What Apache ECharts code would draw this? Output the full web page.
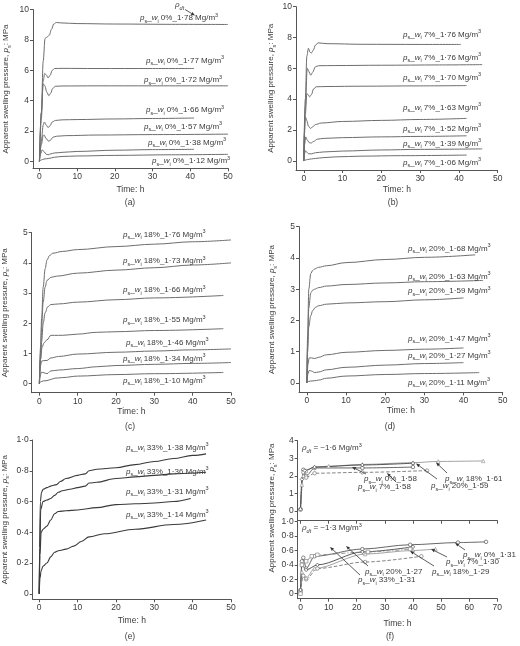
<!DOCTYPE html>
<html>
<head>
<meta charset="utf-8">
<script src="https://cdn.jsdelivr.net/npm/echarts@6.0.0/dist/echarts.min.js"></script>
<style>
  html, body { margin: 0; padding: 0; background: #fff; }
  #chart { width: 520px; height: 646px; }
</style>
</head>
<body>
<div id="chart"></div>
<script>
// ---- data (time h, pressure MPa) ----
const densA = ['1·78', '1·77', '1·72', '1·66', '1·57', '1·38', '1·12'];
const curvesA = [
  [[0,0],[0.5,3.2],[1,6.6],[1.5,8.1],[2,8.2],[2.6,8.3],[3.2,8.7],[3.8,9.05],[4.5,9.15],[6,9.12],[10,9.08],[20,9.05],[35,9.03],[50,9.02]],
  [[0,0],[0.5,2.8],[1,5.3],[1.4,5.8],[1.8,5.7],[2.3,5.5],[2.8,5.65],[3.4,6.0],[4,6.12],[6,6.13],[15,6.12],[30,6.12],[41,6.12]],
  [[0,0],[0.5,3.2],[1,5.1],[1.4,5.0],[2,4.55],[2.5,4.33],[3,4.5],[3.5,4.8],[4.2,4.95],[6,4.97],[15,4.98],[30,4.98],[50,4.98]],
  [[0,0],[0.5,1.3],[1,2.4],[1.3,2.6],[1.8,2.4],[2.3,2.23],[2.8,2.35],[3.4,2.6],[4.2,2.7],[6,2.74],[10,2.76],[20,2.8],[30,2.83],[41,2.86]],
  [[0,0],[0.5,1.1],[1,1.7],[1.2,1.75],[1.8,1.5],[2.5,1.33],[3,1.42],[3.6,1.6],[4.5,1.66],[7,1.7],[15,1.74],[30,1.77],[50,1.8]],
  [[0,0],[0.3,0.5],[0.7,0.77],[1.2,0.65],[1.8,0.48],[2.3,0.44],[3,0.5],[4,0.56],[6,0.6],[10,0.66],[20,0.74],[30,0.78],[41,0.8]],
  [[0,0],[0.5,0.1],[1.2,0.16],[2.5,0.2],[4,0.28],[6,0.33],[10,0.36],[20,0.4],[35,0.44],[50,0.47]]
];

const densB = ['1·76', '1·76', '1·70', '1·63', '1·52', '1·39', '1·06'];
const curvesB = [
  [[0,0],[0.4,4],[0.8,6.8],[1.2,7.3],[1.6,7.05],[2,7.0],[2.5,7.2],[3,7.5],[3.7,7.65],[6,7.6],[15,7.56],[30,7.55],[40.5,7.55]],
  [[0,0],[0.4,3.5],[0.9,6.0],[1.3,5.8],[1.8,5.55],[2.3,5.75],[3,6.1],[3.8,6.17],[8,6.18],[20,6.2],[35,6.22],[46,6.24]],
  [[0,0],[0.4,3.0],[0.8,4.35],[1.1,4.3],[1.5,4.15],[2,4.3],[2.5,4.65],[3.2,4.8],[6,4.82],[15,4.84],[30,4.86],[42,4.88]],
  [[0,0],[0.2,1.8],[0.4,2.85],[0.8,2.6],[1.2,2.25],[1.7,2.1],[2.3,2.2],[3,2.35],[4.5,2.45],[10,2.55],[20,2.62],[30,2.68],[42,2.75]],
  [[0,0],[0.25,1.1],[0.5,1.55],[0.9,1.35],[1.4,1.18],[1.9,1.15],[2.5,1.25],[3.5,1.4],[5,1.45],[10,1.5],[20,1.55],[30,1.58],[42,1.62]],
  [[0,0],[0.2,0.45],[0.4,0.65],[0.8,0.55],[1.3,0.45],[2,0.45],[3,0.52],[5,0.57],[10,0.63],[20,0.7],[30,0.74],[46,0.77]],
  [[0,0],[0.5,0.05],[1,0.08],[2,0.12],[3,0.15],[5,0.2],[8,0.25],[15,0.3],[25,0.33],[42,0.37]]
];

const densC = ['1·76', '1·73', '1·66', '1·55', '1·46', '1·34', '1·10'];
const curvesC = [
  [[0,0],[0.3,1.2],[0.6,2.2],[1,3.2],[1.5,3.8],[2,4.1],[2.7,4.25],[3.5,4.32],[6,4.38],[10,4.44],[20,4.54],[30,4.62],[40,4.7],[50,4.76]],
  [[0,0],[0.3,1.0],[0.6,1.9],[1,2.7],[1.5,3.2],[2,3.42],[3,3.52],[4.5,3.56],[10,3.66],[20,3.76],[30,3.84],[40,3.93],[50,4.0]],
  [[0,0],[0.3,0.8],[0.6,1.4],[1,2.0],[1.5,2.35],[2.2,2.55],[3,2.62],[5,2.64],[10,2.7],[20,2.78],[30,2.84],[48,2.92]],
  [[0,0],[0.3,0.8],[0.7,1.2],[1.2,1.35],[2,1.45],[3,1.6],[4,1.6],[6,1.6],[10,1.64],[15,1.7],[20,1.72],[30,1.76],[48,1.82]],
  [[0,0],[0.3,0.6],[0.6,0.75],[1,0.76],[2,0.77],[3,0.85],[5,0.9],[10,0.98],[20,1.04],[30,1.08],[40,1.12],[50,1.15]],
  [[0,0],[0.3,0.3],[0.6,0.38],[1.2,0.36],[2,0.33],[3,0.42],[5,0.45],[10,0.5],[15,0.56],[20,0.6],[30,0.64],[40,0.67],[50,0.7]],
  [[0,0],[0.3,0.06],[1,0.09],[2,0.1],[3,0.14],[4,0.18],[6,0.2],[10,0.25],[20,0.3],[30,0.33],[48,0.37]]
];

const densD = ['1·68', '1·63', '1·59', '1·47', '1·27', '1·11'];
const curvesD = [
  [[0,0],[0.2,1.5],[0.5,3.0],[1,3.5],[1.5,3.6],[2,3.65],[3,3.7],[5,3.75],[10,3.85],[20,3.95],[30,4.02],[43,4.1]],
  [[0,0],[0.2,1.2],[0.5,2.4],[1,2.88],[1.5,2.97],[2,3.0],[3,3.05],[5,3.1],[10,3.15],[20,3.2],[30,3.24],[45,3.28]],
  [[0,0],[0.2,1.0],[0.5,1.8],[1,2.15],[1.5,2.32],[2.2,2.42],[3,2.47],[5,2.52],[10,2.56],[20,2.6],[30,2.66],[40,2.72]],
  [[0,0],[0.3,0.6],[0.6,0.8],[1.2,0.8],[2,0.78],[3,0.82],[5,0.9],[10,0.98],[20,1.04],[30,1.08],[40,1.12]],
  [[0,0],[0.3,0.3],[0.6,0.4],[1.2,0.38],[2,0.33],[3,0.35],[5,0.42],[10,0.5],[20,0.57],[30,0.62],[40,0.65]],
  [[0,0],[0.5,0.05],[1,0.06],[2,0.07],[3,0.09],[5,0.15],[10,0.22],[20,0.27],[30,0.3],[44,0.33]]
];

const densE = ['1·38', '1·36', '1·31', '1·14'];
const curvesE = [
  [[0,0],[0.1,0.3],[0.3,0.6],[0.6,0.66],[1,0.68],[2,0.69],[3,0.7],[4.5,0.71],[5.5,0.73],[7,0.75],[10,0.77],[12,0.78],[13,0.8],[15,0.81],[20,0.82],[25,0.84],[30,0.86],[35,0.88],[40,0.9],[43.5,0.91]],
  [[0,0],[0.15,0.3],[0.4,0.55],[1,0.6],[2,0.61],[3,0.62],[4,0.64],[5,0.66],[6,0.67],[8,0.68],[10,0.69],[12,0.7],[13,0.72],[15,0.725],[20,0.75],[25,0.76],[30,0.77],[35,0.78],[40,0.785],[43.5,0.79]],
  [[0,0],[0.2,0.25],[0.5,0.4],[1,0.42],[2,0.44],[3,0.48],[4,0.52],[5,0.535],[7,0.54],[10,0.545],[15,0.56],[20,0.58],[25,0.585],[30,0.59],[35,0.6],[39.5,0.62]],
  [[0,0],[0.2,0.1],[0.5,0.15],[1,0.18],[2,0.2],[3,0.24],[4,0.27],[5,0.28],[7,0.29],[9,0.31],[11,0.34],[13,0.37],[17,0.39],[25,0.42],[35,0.45],[43.5,0.48]]
];

// (f) comparison at similar dry density
const fTopW = ['0', '7', '18', '20'];
const fTopD = ['1·58', '1·58', '1·61', '1·59'];
const fTopCurves = [
  [[0,0.1],[1,2.35],[2,2.0],[5,2.45],[22,2.45],[40,2.5]],
  [[0,0.1],[1,2.2],[2,1.9],[5,2.15],[22,2.2],[45,2.3]],
  [[0,0.1],[0.5,1.5],[1,2.0],[2,2.3],[5,2.5],[10,2.55],[22,2.65],[40,2.75],[49,2.82],[65,2.85]],
  [[0,0.1],[0.5,1.8],[1.5,2.3],[5,2.5],[22,2.62],[40,2.72]]
];
const fBotW = ['0', '7', '18', '20', '33'];
const fBotD = ['1·31', '1·30', '1·29', '1·27', '1·31'];
const fBotCurves = [
  [[0,0.05],[0.5,0.45],[1,0.5],[2,0.35],[5,0.52],[22,0.62],[39,0.68],[56,0.71],[66,0.72]],
  [[0,0.02],[1,0.25],[2,0.2],[6,0.35],[23,0.44],[43,0.52]],
  [[0,0.05],[0.5,0.3],[2,0.22],[5,0.35],[23,0.55],[40,0.6],[48,0.62]],
  [[0,0.05],[0.5,0.4],[2,0.33],[6,0.4],[22,0.58],[40,0.65]],
  [[0,0],[0.5,0.4],[2,0.45],[4,0.52],[6,0.54],[24,0.58],[39,0.62]]
];

const ticks10 = [0, 10, 20, 30, 40, 50];
const ticks70 = [0, 10, 20, 30, 40, 50, 60, 70];

// ---- styling ----
const FF = '"Liberation Sans", Arial, sans-serif';
const TXT = '#3a3a3a';
const AX = '#555';

const RICH = {
  t: { fontFamily: FF, fontSize: 8, lineHeight: 12, color: TXT, fill: TXT },
  i: { fontFamily: FF, fontSize: 8, fontStyle: 'italic', lineHeight: 12, color: TXT, fill: TXT },
  b: { fontFamily: FF, fontSize: 5.5, lineHeight: 6, verticalAlign: 'bottom', color: TXT, fill: TXT },
  bi: { fontFamily: FF, fontSize: 5.5, fontStyle: 'italic', lineHeight: 6, verticalAlign: 'bottom', color: TXT, fill: TXT },
  u: { fontFamily: FF, fontSize: 5.5, lineHeight: 6, verticalAlign: 'top', color: TXT, fill: TXT }
};

function psLabel(w, d, unit) {
  return '{i|p}{b|s}{t|_}{i|w}{b|i}{t| ' + w + '%_' + d + (unit ? ' Mg/m' : '') + '}' + (unit ? '{u|3}' : '');
}
const yTitle = '{t|Apparent swelling pressure, }{i|p}{b|s}{t|: MPa}';

function dotFmt(v) {
  return v === 0 ? '0' : v.toFixed(1).replace('.', '·');
}

// grid boxes (pixels)
const boxes = [
  { left: 33, top: 9.6, width: 195, height: 158.7 },     // a
  { left: 296, top: 6.7, width: 201.7, height: 163.3 },  // b
  { left: 31.7, top: 232.7, width: 199.3, height: 160 }, // c
  { left: 299, top: 226.7, width: 203.7, height: 165.6 },// d
  { left: 32.7, top: 440, width: 198.3, height: 159.3 }, // e
  { left: 297.7, top: 440.7, width: 199.6, height: 80 }, // f top
  { left: 297.7, top: 521.7, width: 199.6, height: 77 }  // f bottom
];
const axesCfg = [
  { x: [-1.7, 50], xt: ticks10, y: [-0.45, 10], yt: [0, 2, 4, 6, 8, 10], xGap: 17, yGap: 21 },
  { x: [-2, 50], xt: ticks10, y: [-0.6, 10], yt: [0, 2, 4, 6, 8, 10], xGap: 15, yGap: 19 },
  { x: [-2, 50], xt: ticks10, y: [-0.3, 5], yt: [0, 1, 2, 3, 4, 5], xGap: 14, yGap: 21 },
  { x: [-2, 50], xt: ticks10, y: [-0.3, 5], yt: [0, 1, 2, 3, 4, 5], xGap: 13, yGap: 21 },
  { x: [-1.7, 50], xt: ticks10, y: [-0.036, 1], yt: [0, 0.2, 0.4, 0.6, 0.8, 1], xGap: 17, yGap: 22, fmt: dotFmt },
  { x: [-1, 70], xt: ticks70, y: [-0.55, 4], yt: [0, 1, 2, 3, 4], noX: true },
  { x: [-1, 70], xt: ticks70, y: [-0.07, 1], yt: [0, 0.2, 0.4, 0.6, 0.8, 1], xGap: 20, fmt: dotFmt }
];

const grid = boxes.map(b => Object.assign({ containLabel: false, outerBoundsMode: 'none' }, b));

const xAxis = axesCfg.map((c, i) => ({
  type: 'value', gridIndex: i, min: c.x[0], max: c.x[1],
  name: c.noX ? '' : 'Time: h', nameLocation: 'middle', nameGap: c.xGap,
  nameTextStyle: { fontFamily: FF, fontSize: 8.5, color: TXT },
  axisLine: { show: true, onZero: false, lineStyle: { color: AX, width: 1 } },
  axisTick: { show: true, inside: false, length: 3, customValues: c.xt, lineStyle: { color: AX } },
  axisLabel: { show: !c.noX, customValues: c.xt, margin: 4, fontFamily: FF, fontSize: 8.5, color: TXT },
  splitLine: { show: false }
}));

const yAxis = axesCfg.map((c, i) => ({
  type: 'value', gridIndex: i, min: c.y[0], max: c.y[1],
  name: c.yGap ? yTitle : '', nameLocation: 'middle', nameGap: c.yGap || 0, nameRotate: 90,
  nameTextStyle: { fontFamily: FF, fontSize: 8, color: TXT, rich: RICH },
  axisLine: { show: true, onZero: false, lineStyle: { color: AX, width: 1 } },
  axisTick: { show: true, inside: false, length: 3, customValues: c.yt, lineStyle: { color: AX } },
  axisLabel: { customValues: c.yt, margin: 4, fontFamily: FF, fontSize: 8.5, color: TXT,
               formatter: c.fmt || (v => String(v)) },
  splitLine: { show: false }
}));

const series = [];
function addCurves(curves, gi, color, width) {
  curves.forEach(d => series.push({
    type: 'line', xAxisIndex: gi, yAxisIndex: gi, data: d,
    symbol: 'none', smooth: 0.35, smoothMonotone: 'x',
    lineStyle: { color: color, width: width }, silent: true
  }));
}
addCurves(curvesA, 0, '#6e6e6e', 1);
addCurves(curvesB, 1, '#6e6e6e', 1);
addCurves(curvesC, 2, '#6e6e6e', 1);
addCurves(curvesD, 3, '#6e6e6e', 1);
addCurves(curvesE, 4, '#3a3a3a', 1.1);

const fStyles = [
  { color: '#555', type: 'solid', symbol: 'circle' },
  { color: '#777', type: 'dashed', symbol: 'circle' },
  { color: '#999', type: 'solid', symbol: 'triangle' },
  { color: '#444', type: 'solid', symbol: 'diamond' },
  { color: '#888', type: [4, 2, 1, 2], symbol: 'rect' }
];
function addMarked(curves, gi) {
  curves.forEach((d, k) => series.push({
    type: 'line', xAxisIndex: gi, yAxisIndex: gi, data: d,
    symbol: fStyles[k].symbol, symbolSize: 3.5, smooth: 0.3, smoothMonotone: 'x',
    itemStyle: { color: '#fff', borderColor: fStyles[k].color, borderWidth: 0.7 },
    lineStyle: { color: fStyles[k].color, width: 0.9, type: fStyles[k].type }, silent: true
  }));
}
addMarked(fTopCurves, 5);
addMarked(fBotCurves, 6);

// ---- annotations ----
function gtext(x, y, text, align, size) {
  return { type: 'text', x: x, y: y, silent: true, z: 100,
    style: { text: text, rich: RICH, align: align || 'left', verticalAlign: 'middle',
             fill: TXT, font: (size || 8) + 'px ' + FF } };
}
function arrow(x1, y1, x2, y2) {
  const a = Math.atan2(y2 - y1, x2 - x1), L = 4, W = 1.6;
  const bx = x2 - L * Math.cos(a), by = y2 - L * Math.sin(a);
  return [
    { type: 'line', silent: true, z: 100, shape: { x1: x1, y1: y1, x2: bx, y2: by }, style: { stroke: '#333', lineWidth: 0.8 } },
    { type: 'polygon', silent: true, z: 100, shape: { points: [[x2, y2],
      [bx + W * Math.sin(a), by - W * Math.cos(a)], [bx - W * Math.sin(a), by + W * Math.cos(a)]] },
      style: { fill: '#333' } }
  ];
}

const labA = [[140, 18], [146, 60.7], [144, 80], [146, 110], [144, 126.7], [148, 142.7], [152, 161]];
const labB = [[403, 34.3], [403, 57.3], [403, 77.3], [403, 107.7], [403, 128.3], [403, 143.3], [403, 162.7]];
const labC = [[123, 234.3], [123, 261], [123, 290], [123, 320], [126, 342.7], [123, 358.3], [123, 380.7]];
const labD = [[408, 248.3], [408, 276.7], [408, 291], [408, 338.3], [408, 355.7], [408, 382.7]];
const labE = [[126, 447.7], [126, 471.7], [126, 491.7], [126, 514.3]];

const graphic = [];
densA.forEach((d, k) => graphic.push(gtext(labA[k][0], labA[k][1], psLabel('0', d, true))));
densB.forEach((d, k) => graphic.push(gtext(labB[k][0], labB[k][1], psLabel('7', d, true))));
densC.forEach((d, k) => graphic.push(gtext(labC[k][0], labC[k][1], psLabel('18', d, true))));
densD.forEach((d, k) => graphic.push(gtext(labD[k][0], labD[k][1], psLabel('20', d, true))));
densE.forEach((d, k) => graphic.push(gtext(labE[k][0], labE[k][1], psLabel('33', d, true))));

// rho_dt marker in (a)
graphic.push(gtext(175, 5, '{i|ρ}{bi|dt}'));
graphic.push(...arrow(185, 9.5, 195, 15.5));

// (f) annotations
graphic.push(gtext(302, 448, '{i|ρ}{bi|dt}{t| = ~1·6 Mg/m}{u|3}'));
graphic.push(gtext(302, 528, '{i|ρ}{bi|dt}{t| = ~1·3 Mg/m}{u|3}'));
const fTopLab = [[364, 479], [358, 487], [445, 479], [431, 486]];
const fTopArr = [[366, 474, 352, 467], [396, 482, 387, 473], [447, 473, 436, 462.5], [437, 479, 416, 463.5]];
fTopW.forEach((w, k) => {
  graphic.push(gtext(fTopLab[k][0], fTopLab[k][1], psLabel(w, fTopD[k], false)));
  graphic.push(...arrow(...fTopArr[k]));
});
const fBotLab = [[463, 555], [446, 562], [432, 571.7], [365, 571.7], [358, 580]];
const fBotArr = [[465, 550, 455, 543], [447, 557, 431, 549], [434, 566, 410, 551], [368, 566, 346, 546], [360, 575, 330, 547]];
fBotW.forEach((w, k) => {
  graphic.push(gtext(fBotLab[k][0], fBotLab[k][1], psLabel(w, fBotD[k], false)));
  graphic.push(...arrow(...fBotArr[k]));
});

// (f) y-axis title spans both grids
graphic.push({ type: 'text', x: 272, y: 508, rotation: Math.PI / 2, silent: true,
  style: { text: yTitle, rich: RICH, align: 'center', verticalAlign: 'middle', fill: TXT, font: '8px ' + FF } });

// panel letters
[['(a)', 130, 203], ['(b)', 393, 203], ['(c)', 130, 427], ['(d)', 390, 427], ['(e)', 130, 637], ['(f)', 390, 637]]
  .forEach(p => graphic.push({ type: 'text', x: p[1], y: p[2], silent: true,
    style: { text: p[0], align: 'center', verticalAlign: 'middle', fill: TXT, font: '8.5px ' + FF } }));

const chart = echarts.init(document.getElementById('chart'), null, { renderer: 'canvas' });
chart.setOption({
  animation: false,
  backgroundColor: '#fff',
  grid: grid,
  xAxis: xAxis,
  yAxis: yAxis,
  series: series,
  graphic: graphic
});
</script>
</body>
</html>
